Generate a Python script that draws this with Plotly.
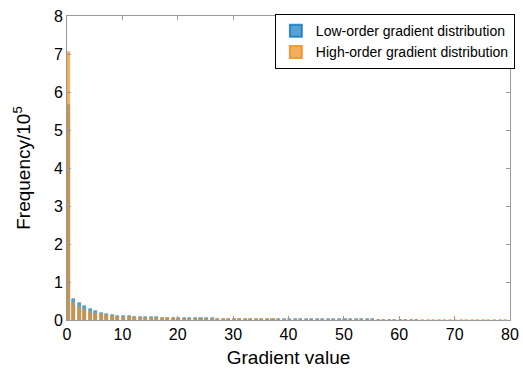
import plotly.graph_objects as go

# Bin indices (gradient value bins)
low_bins = list(range(0, 64))
high_bins = list(range(0, 80))

# Frequencies (x10^5)
low_order = [5.66, 0.54, 0.45, 0.36, 0.28, 0.23, 0.19, 0.16, 0.13, 0.115,
             0.10, 0.095, 0.09, 0.085, 0.075, 0.07, 0.068, 0.065, 0.06, 0.058,
             0.055, 0.05, 0.05, 0.048, 0.045, 0.042, 0.04, 0.038, 0.035, 0.033,
             0.03, 0.03, 0.028, 0.027, 0.026, 0.025, 0.024, 0.023, 0.022, 0.022,
             0.021, 0.02, 0.02, 0.019, 0.019, 0.018, 0.018, 0.017, 0.017, 0.016,
             0.016, 0.015, 0.015, 0.015, 0.014, 0.014, 0.013, 0.013, 0.013, 0.012,
             0.012, 0.012, 0.011, 0.011]
high_order = [7.04, 0.44, 0.35, 0.26, 0.21, 0.17, 0.15, 0.12, 0.10, 0.09,
              0.085, 0.08, 0.07, 0.065, 0.06, 0.055, 0.05, 0.048, 0.045, 0.042,
              0.04, 0.038, 0.035, 0.033, 0.03, 0.028, 0.026, 0.025, 0.023, 0.022,
              0.02, 0.019, 0.018, 0.017, 0.016, 0.015, 0.014, 0.014, 0.013, 0.013,
              0.012, 0.012, 0.011, 0.011, 0.010, 0.010, 0.010, 0.009, 0.009, 0.009,
              0.008, 0.008, 0.008, 0.008, 0.007, 0.007, 0.007, 0.007, 0.006, 0.006,
              0.006, 0.006, 0.006, 0.005, 0.005, 0.005, 0.005, 0.005, 0.005, 0.005,
              0.004, 0.004, 0.004, 0.004, 0.004, 0.004, 0.004, 0.004, 0.004, 0.004]

x_ticks = [0, 10, 20, 30, 40, 50, 60, 70, 80]
y_ticks = [0, 1, 2, 3, 4, 5, 6, 7, 8]

offset = 0.2
fig = go.Figure()
fig.add_trace(go.Bar(
    x=[b + offset for b in low_bins], y=low_order, width=0.55,
    name="Low-order gradient distribution",
    marker=dict(color="rgba(0,114,189,0.65)", line=dict(width=0.6, color="rgba(0,114,189,0.75)")),
))
fig.add_trace(go.Bar(
    x=[b + offset for b in high_bins], y=high_order, width=0.55,
    name="High-order gradient distribution",
    marker=dict(color="rgba(237,145,33,0.72)", line=dict(width=0.6, color="rgba(237,145,33,0.85)")),
))

FONT = "Liberation Sans, Arial, sans-serif"
axis_common = dict(
    showline=True, linecolor="#9a9a9a", linewidth=1, mirror="ticks",
    ticks="inside", ticklen=4, tickcolor="#9a9a9a",
    showgrid=False, zeroline=False, automargin=False,
    tickfont=dict(family=FONT, size=16, color="black"),
)

fig.update_layout(
    width=523, height=378,
    margin=dict(l=67, r=8, t=16, b=58),
    paper_bgcolor="white", plot_bgcolor="white",
    barmode="overlay", bargap=0,
    xaxis=dict(range=[0, 80], tickvals=x_ticks,
               title=dict(text="Gradient value", font=dict(family=FONT, size=19, color="black"), standoff=8),
               **axis_common),
    yaxis=dict(range=[0, 8], tickvals=y_ticks,
               title=dict(text="Frequency/10<sup>5</sup>", font=dict(family=FONT, size=19, color="black"), standoff=18),
               **axis_common),
    legend=dict(x=1.011, y=1.006, xanchor="right", yanchor="top",
                bordercolor="black", borderwidth=1, bgcolor="white",
                font=dict(family=FONT, size=14, color="black"),
                itemsizing="constant", tracegroupgap=0),
    showlegend=True,
)

fig.write_html("out.html")
